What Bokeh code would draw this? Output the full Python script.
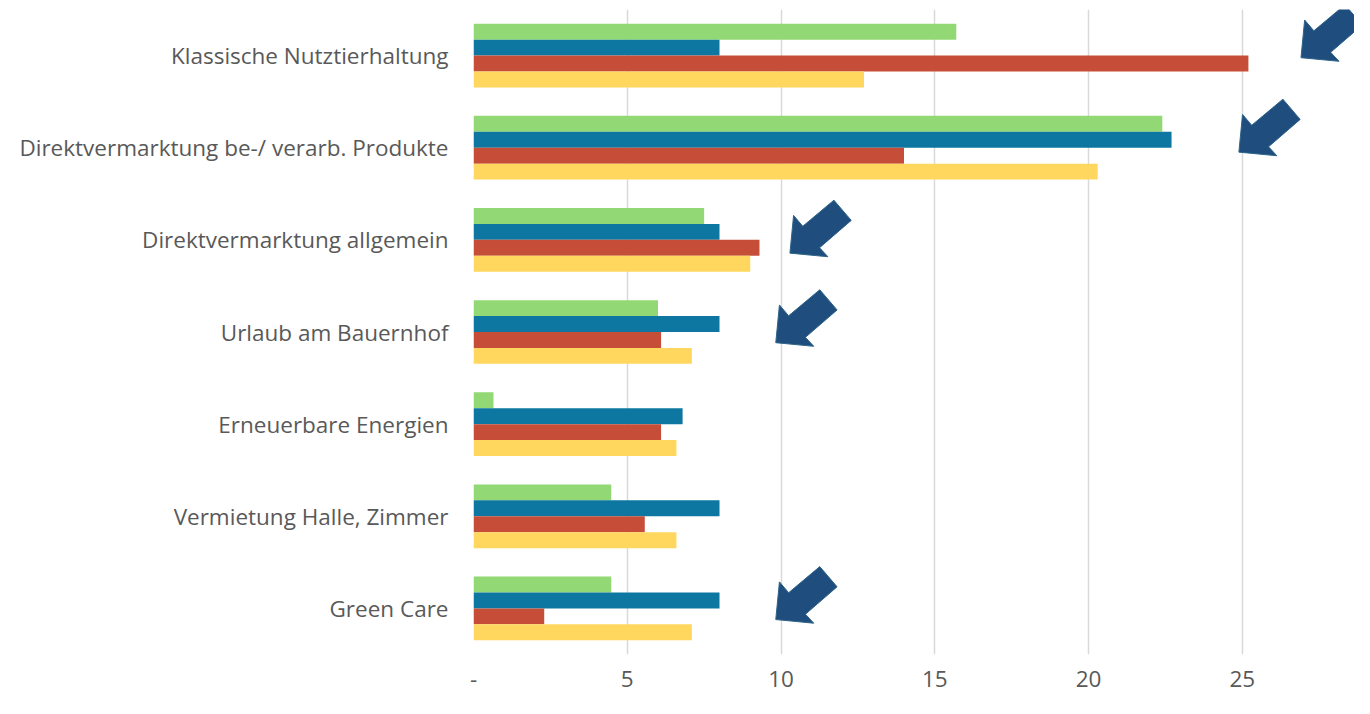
from bokeh.plotting import figure
from bokeh.models import Range1d, FixedTicker
from bokeh.embed import file_html
from bokeh.resources import INLINE

# ---- data ----
categories = [
    "Klassische Nutztierhaltung",
    "Direktvermarktung be-/ verarb. Produkte",
    "Direktvermarktung allgemein",
    "Urlaub am Bauernhof",
    "Erneuerbare Energien",
    "Vermietung Halle, Zimmer",
    "Green Care",
]
series_green = [15.7, 22.4, 7.5, 6.0, 0.65, 4.48, 4.48]
series_blue = [8.0, 22.7, 8.0, 8.0, 6.8, 8.0, 8.0]
series_red = [25.2, 14.0, 9.3, 6.1, 6.1, 5.57, 2.3]
series_yellow = [12.7, 20.3, 9.0, 7.1, 6.6, 6.6, 7.1]
series_colors = ["#92D975", "#0D77A1", "#C64E38", "#FFD75E"]
x_ticks = [0, 5, 10, 15, 20, 25]
x_tick_labels = ["-", "5", "10", "15", "20", "25"]

# arrow tips (x value, y position in category units; 0 = bottom category centre)
arrow_tip_x = [26.91, 24.89, 10.29, 9.83, 9.83]
arrow_tip_y = [5.977, 4.952, 3.856, 2.884, -0.121]

# ---- layout ----
W, H = 1354, 698
FL, FT, FB = 473, 9, 44
n = len(categories)
x_max = 28.65
ref_px_x = 31.1    # reference pixels per x unit
ref_px_y = 94.29   # reference pixels per category

p = figure(width=W, height=H, output_backend="svg", toolbar_location=None,
           x_range=Range1d(0, x_max), y_range=Range1d(-0.5, n - 0.5),
           min_border_left=FL, min_border_top=FT, min_border_bottom=FB,
           min_border_right=0)
p.outline_line_color = None
p.background_fill_color = "white"
p.border_fill_color = "white"

bar_h = 16.3 / ref_px_y
all_series = [series_green, series_blue, series_red, series_yellow]
for j, (vals, col) in enumerate(zip(all_series, series_colors)):
    ys = [(n - 1 - i) + (1.5 - j) * bar_h for i in range(n)]
    p.hbar(y=ys, left=0, right=vals, height=bar_h, fill_color=col, line_color=None)

# arrows: shape in reference pixels relative to tip (dx right, dy down)
shape = [(0, 0), (3.7, -38.6), (13, -27.5), (44.5, -54.2), (62, -33.5),
         (30, -5.5), (38.4, 3.7)]
xs, ys = [], []
for tx, ty in zip(arrow_tip_x, arrow_tip_y):
    xs.append([tx + dx / ref_px_x for dx, dy in shape])
    ys.append([ty - dy / ref_px_y for dx, dy in shape])
p.patches(xs, ys, fill_color="#1F4E7E", line_color="#2E6488", line_width=1)

# axes
xa = p.xaxis[0]
xa.ticker = FixedTicker(ticks=x_ticks)
xa.major_label_overrides = {t: l for t, l in zip(x_ticks, x_tick_labels)}
xa.axis_line_color = None
xa.major_tick_line_color = None
xa.minor_tick_line_color = None
xa.major_tick_out = 0
xa.major_tick_in = 0
xa.major_label_standoff = 16
xa.major_label_text_font = "Open Sans"
xa.major_label_text_font_size = "22.5px"
xa.major_label_text_color = "#595959"

ya = p.yaxis[0]
ya.ticker = FixedTicker(ticks=list(range(n)))
ya.major_label_overrides = {n - 1 - i: c for i, c in enumerate(categories)}
ya.axis_line_color = None
ya.major_tick_line_color = None
ya.minor_tick_line_color = None
ya.major_tick_out = 0
ya.major_tick_in = 0
ya.major_label_standoff = 25
ya.major_label_text_font = "Open Sans"
ya.major_label_text_font_size = "22.5px"
ya.major_label_text_color = "#595959"

p.xgrid.grid_line_color = "#D9D9D9"
p.xgrid.grid_line_width = 1.5
p.ygrid.grid_line_color = None

open("out.html", "w").write(file_html(p, INLINE))
